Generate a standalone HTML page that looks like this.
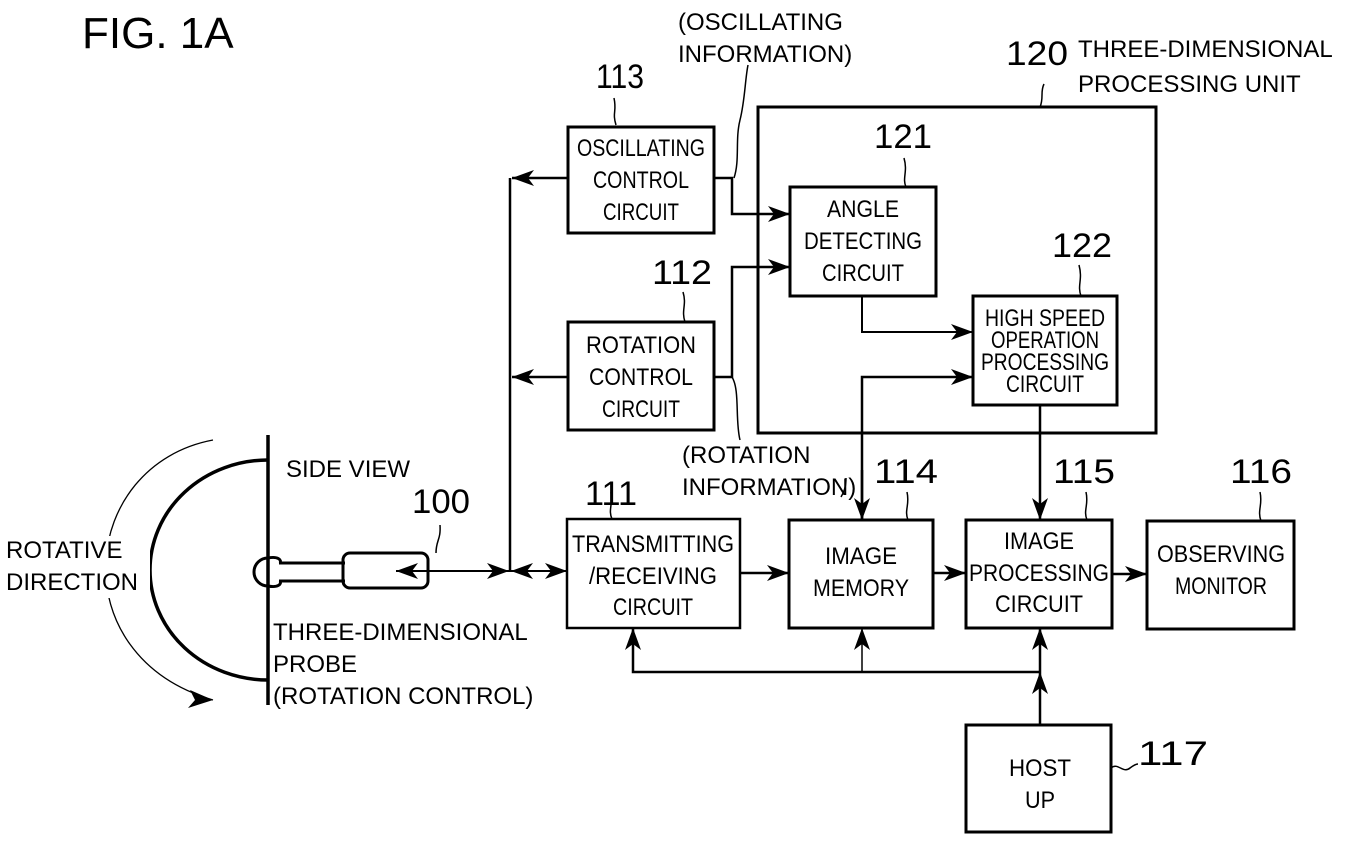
<!DOCTYPE html>
<html><head><meta charset="utf-8"><style>
html,body{margin:0;padding:0;background:#fff;}
svg{display:block;}
text{font-family:"Liberation Sans",sans-serif;fill:#000;}
.n{font-size:34px;}
.l{font-size:24px;}
.b{font-size:24px;text-anchor:middle;}
</style></head><body>
<svg width="1359" height="847" viewBox="0 0 1359 847" xmlns="http://www.w3.org/2000/svg">
<defs>
<marker id="a" markerWidth="24" markerHeight="16" refX="22" refY="8" orient="auto" markerUnits="userSpaceOnUse">
<path d="M0,0 L22,8 L0,16 L6,8 Z" fill="#000"/></marker>
</defs>
<g fill="none" stroke="#000">
<rect x="568" y="127" width="146" height="106" stroke-width="3"/>
<rect x="568" y="322" width="146" height="108" stroke-width="3"/>
<rect x="758" y="107" width="398" height="326" stroke-width="3"/>
<rect x="790" y="187" width="146" height="109" stroke-width="3"/>
<rect x="973" y="296" width="144" height="109" stroke-width="3"/>
<rect x="567" y="519" width="173" height="109" stroke-width="2.5"/>
<rect x="789" y="520" width="144" height="108" stroke-width="3"/>
<rect x="966" y="520" width="146" height="108" stroke-width="3"/>
<rect x="1147" y="521" width="147" height="108" stroke-width="3"/>
<rect x="966" y="725" width="145" height="107" stroke-width="3"/>
<line x1="510" y1="178" x2="510" y2="572" stroke-width="2.5"/>
<line x1="568" y1="178" x2="512" y2="178" stroke-width="2.5" marker-end="url(#a)"/>
<line x1="568" y1="377" x2="512" y2="377" stroke-width="2.5" marker-end="url(#a)"/>
<polyline points="714,178 732,178 732,214 790,214" stroke-width="2.5" marker-end="url(#a)"/>
<polyline points="714,377 732,377 732,267 790,267" stroke-width="2.5" marker-end="url(#a)"/>
<polyline points="862,296 862,332 973,332" stroke-width="2" marker-end="url(#a)"/>
<polyline points="862,520 862,377 973,377" stroke-width="2.5" marker-end="url(#a)"/>
<line x1="862" y1="470" x2="862" y2="520" stroke-width="2.5" marker-end="url(#a)"/>
<line x1="1040" y1="405" x2="1040" y2="520" stroke-width="2.5" marker-end="url(#a)"/>
<line x1="740" y1="573" x2="789" y2="573" stroke-width="2.5" marker-end="url(#a)"/>
<line x1="933" y1="573" x2="966" y2="573" stroke-width="2.5" marker-end="url(#a)"/>
<line x1="1112" y1="574" x2="1147" y2="574" stroke-width="2.5" marker-end="url(#a)"/>
<polyline points="1040,672 633,672 633,628" stroke-width="2.5" marker-end="url(#a)"/>
<line x1="862" y1="672" x2="862" y2="628" stroke-width="1.5" marker-end="url(#a)"/>
<line x1="1040" y1="672" x2="1040" y2="628" stroke-width="2.5" marker-end="url(#a)"/>
<line x1="1040" y1="725" x2="1040" y2="672" stroke-width="2.5" marker-end="url(#a)"/>
<line x1="510" y1="571" x2="396" y2="571" stroke-width="2" marker-end="url(#a)"/>
<line x1="420" y1="571" x2="509" y2="571" stroke-width="2" marker-end="url(#a)"/>
<line x1="566" y1="571" x2="511" y2="571" stroke-width="2" marker-end="url(#a)"/>
<line x1="512" y1="571" x2="567" y2="571" stroke-width="2" marker-end="url(#a)"/>
<line x1="268" y1="435" x2="268" y2="705" stroke-width="3.5"/>
<path d="M268,460 A118,110 0 0 0 268,680" stroke-width="3.5"/>
<path d="M213,440 C80,465 60,655 213,700" stroke-width="1.3"/>
<path d="M213,700 L190,690 L195,700 L188,708 Z" fill="#000" stroke="none"/>
<path d="M268,558 A14,14 0 1 0 268,586" stroke-width="3"/>
<path d="M268,558 C278,556 282,560 280,563 M268,586 C278,588 282,584 280,581" stroke-width="3"/>
<path d="M279,563 L345,563 M279,581 L345,581" stroke-width="3"/>
<rect x="343" y="553" width="85" height="35" rx="7" stroke-width="3"/>
<path d="M436,553 C436,540 441,540 440,525" stroke-width="1.5"/>
<path d="M616,125 C612,112 617,112 614,98" stroke-width="1.5"/>
<path d="M734,178 C740,160 735,140 740,120 C745,100 745,80 748,65" stroke-width="1.5"/>
<path d="M1040,107 C1044,98 1040,92 1044,84" stroke-width="1.5"/>
<path d="M906,187 C902,178 908,172 904,158" stroke-width="1.5"/>
<path d="M1081,296 C1077,285 1083,280 1079,265" stroke-width="1.5"/>
<path d="M685,322 C681,310 687,305 683,292" stroke-width="1.5"/>
<path d="M732,377 C740,390 735,420 740,440" stroke-width="1.5"/>
<path d="M841,497 C845,490 846,485 846,478" stroke-width="1.5"/>
<path d="M612,519 C608,510 613,505 611,492" stroke-width="1.5"/>
<path d="M908,520 C904,510 910,505 907,492" stroke-width="1.5"/>
<path d="M1087,520 C1083,510 1089,505 1086,492" stroke-width="1.5"/>
<path d="M1261,521 C1257,510 1263,505 1260,492" stroke-width="1.5"/>
<path d="M1111,768 C1118,762 1123,774 1130,768 C1134,765 1136,764 1138,764" stroke-width="1.5"/>
</g>
<rect x="4" y="536" width="146" height="62" fill="#fff"/>
<text x="82" y="48" style="font-size:44px">FIG. 1A</text>
<text x="678" y="30" class="l">(OSCILLATING</text>
<text x="678" y="62" class="l">INFORMATION)</text>
<text x="596" y="88" class="n" textLength="48" lengthAdjust="spacingAndGlyphs">113</text>
<text x="1006" y="65" class="n" textLength="62" lengthAdjust="spacingAndGlyphs">120</text>
<text x="1078" y="57" class="l">THREE-DIMENSIONAL</text>
<text x="1078" y="92" class="l">PROCESSING UNIT</text>
<text x="874" y="148" class="n" textLength="58" lengthAdjust="spacingAndGlyphs">121</text>
<text x="1052" y="257" class="n" textLength="60" lengthAdjust="spacingAndGlyphs">122</text>
<text x="652" y="284" class="n" textLength="60" lengthAdjust="spacingAndGlyphs">112</text>
<text x="682" y="463" class="l">(ROTATION</text>
<text x="682" y="495" class="l">INFORMATION)</text>
<text x="585" y="505" class="n" textLength="52" lengthAdjust="spacingAndGlyphs">111</text>
<text x="874" y="483" class="n" textLength="64" lengthAdjust="spacingAndGlyphs">114</text>
<text x="1053" y="483" class="n" textLength="62" lengthAdjust="spacingAndGlyphs">115</text>
<text x="1230" y="483" class="n" textLength="62" lengthAdjust="spacingAndGlyphs">116</text>
<text x="1138" y="765" class="n" textLength="70" lengthAdjust="spacingAndGlyphs">117</text>
<text x="412" y="513" class="n" textLength="58" lengthAdjust="spacingAndGlyphs">100</text>
<text x="286" y="477" class="l">SIDE VIEW</text>
<text x="6" y="558" class="l">ROTATIVE</text>
<text x="6" y="590" class="l">DIRECTION</text>
<text x="273" y="640" class="l">THREE-DIMENSIONAL</text>
<text x="273" y="672" class="l">PROBE</text>
<text x="273" y="704" class="l">(ROTATION CONTROL)</text>
<text x="641" y="156" class="b" textLength="128" lengthAdjust="spacingAndGlyphs">OSCILLATING</text>
<text x="641" y="188" class="b" textLength="96" lengthAdjust="spacingAndGlyphs">CONTROL</text>
<text x="641" y="220" class="b" textLength="76" lengthAdjust="spacingAndGlyphs">CIRCUIT</text>
<text x="641" y="353" class="b" textLength="110" lengthAdjust="spacingAndGlyphs">ROTATION</text>
<text x="641" y="385" class="b" textLength="104" lengthAdjust="spacingAndGlyphs">CONTROL</text>
<text x="641" y="417" class="b" textLength="78" lengthAdjust="spacingAndGlyphs">CIRCUIT</text>
<text x="863" y="217" class="b" textLength="72" lengthAdjust="spacingAndGlyphs">ANGLE</text>
<text x="863" y="249" class="b" textLength="118" lengthAdjust="spacingAndGlyphs">DETECTING</text>
<text x="863" y="281" class="b" textLength="82" lengthAdjust="spacingAndGlyphs">CIRCUIT</text>
<text x="1045" y="326" class="b" textLength="120" lengthAdjust="spacingAndGlyphs">HIGH SPEED</text>
<text x="1045" y="348" class="b" textLength="108" lengthAdjust="spacingAndGlyphs">OPERATION</text>
<text x="1045" y="370" class="b" textLength="128" lengthAdjust="spacingAndGlyphs">PROCESSING</text>
<text x="1045" y="392" class="b" textLength="78" lengthAdjust="spacingAndGlyphs">CIRCUIT</text>
<text x="653" y="552" class="b" textLength="162" lengthAdjust="spacingAndGlyphs">TRANSMITTING</text>
<text x="653" y="584" class="b" textLength="128" lengthAdjust="spacingAndGlyphs">/RECEIVING</text>
<text x="653" y="615" class="b" textLength="80" lengthAdjust="spacingAndGlyphs">CIRCUIT</text>
<text x="861" y="564" class="b" textLength="72" lengthAdjust="spacingAndGlyphs">IMAGE</text>
<text x="861" y="596" class="b" textLength="96" lengthAdjust="spacingAndGlyphs">MEMORY</text>
<text x="1039" y="549" class="b" textLength="70" lengthAdjust="spacingAndGlyphs">IMAGE</text>
<text x="1039" y="581" class="b" textLength="140" lengthAdjust="spacingAndGlyphs">PROCESSING</text>
<text x="1039" y="612" class="b" textLength="88" lengthAdjust="spacingAndGlyphs">CIRCUIT</text>
<text x="1221" y="562" class="b" textLength="128" lengthAdjust="spacingAndGlyphs">OBSERVING</text>
<text x="1221" y="594" class="b" textLength="92" lengthAdjust="spacingAndGlyphs">MONITOR</text>
<text x="1040" y="776" class="b" textLength="62" lengthAdjust="spacingAndGlyphs">HOST</text>
<text x="1040" y="808" class="b" textLength="30" lengthAdjust="spacingAndGlyphs">UP</text>
</svg>
</body></html>
